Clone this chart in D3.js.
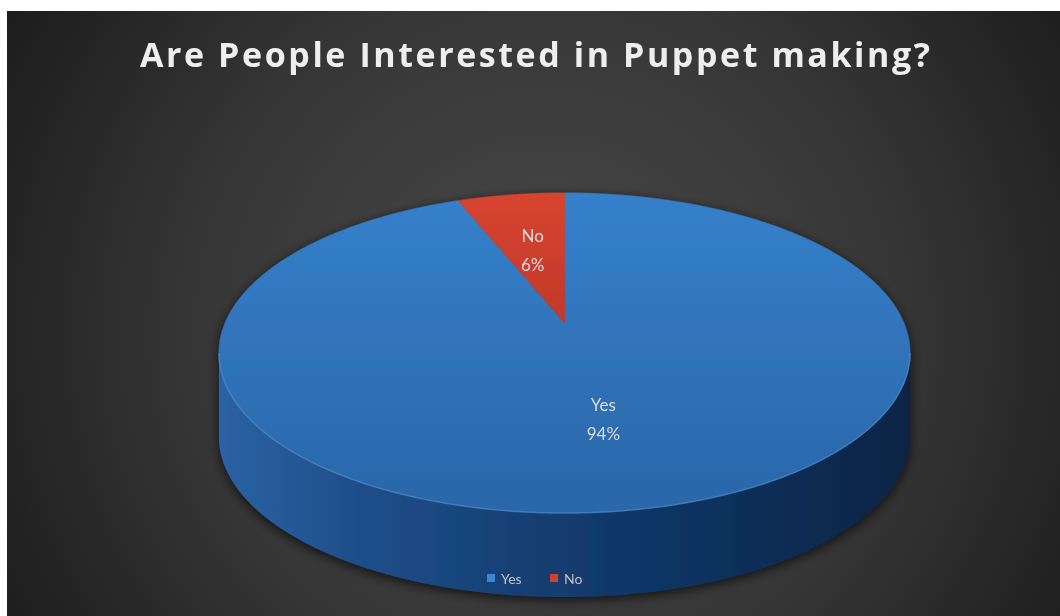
<!DOCTYPE html>
<html>
<head>
<meta charset="utf-8">
<script src="https://cdn.jsdelivr.net/npm/d3@7"></script>
<style>
  html, body { margin: 0; padding: 0; background: #ffffff; }
  svg { display: block; }
</style>
</head>
<body>
<svg id="chart" width="1060" height="616"></svg>
<script>
// Survey answers
const categories = ["Yes", "No"];
const values = [94, 6];
const percentLabels = ["94%", "6%"];
const title = "Are People Interested in Puppet making?";

const W = 1060, H = 616;
const svg = d3.select("#chart");
const defs = svg.append("defs");

// Chart area background: soft radial vignette
const bg = defs.append("radialGradient").attr("id", "bgGrad")
  .attr("gradientUnits", "userSpaceOnUse")
  .attr("cx", 545).attr("cy", 330).attr("r", 640);
bg.append("stop").attr("offset", "0%").attr("stop-color", "#4a4a4a");
bg.append("stop").attr("offset", "55%").attr("stop-color", "#363636");
bg.append("stop").attr("offset", "100%").attr("stop-color", "#1b1b1b");
svg.append("rect").attr("x", 7).attr("y", 11).attr("width", W - 7).attr("height", H - 11)
  .attr("fill", "url(#bgGrad)");

// Title
svg.append("text")
  .attr("x", 535).attr("y", 67)
  .attr("text-anchor", "middle")
  .attr("font-family", "'Open Sans', 'DejaVu Sans', sans-serif")
  .attr("font-weight", "bold")
  .attr("font-size", 34)
  .attr("textLength", 790)
  .attr("lengthAdjust", "spacing")
  .attr("fill", "#eeeeee")
  .style("filter", "blur(0.7px)")
  .text(title);

// Tilted-disk projection: (u, v) on the unit disk, v positive toward the viewer
const P = { cx: 564.5, cy: 323, a: 339.4, c: 154.4, k: 0.1875, depth: 84 };
function proj(u, v, dy = 0) {
  const s = 1 - P.k * v;
  return [P.cx + P.a * u / s, P.cy + P.c * v / s + dy];
}
// pie angle (clockwise from 12 o'clock) and radius fraction -> screen point
function polar(theta, r = 1, dy = 0) {
  return proj(r * Math.sin(theta), -r * Math.cos(theta), dy);
}

const pie = d3.pie().sort(null).value(d => d)(values);
const line = d3.line();

// Gradients
function vGrad(id, stops, x1 = 0, y1 = 0, x2 = 0, y2 = 1) {
  const g = defs.append("linearGradient").attr("id", id)
    .attr("x1", x1).attr("y1", y1).attr("x2", x2).attr("y2", y2);
  stops.forEach(([o, c]) => g.append("stop").attr("offset", o).attr("stop-color", c));
}
vGrad("topYes", [["0%", "#3580cb"], ["100%", "#2a66a8"]]);
vGrad("topNo", [["0%", "#d8442f"], ["100%", "#c0392b"]]);
vGrad("sideYes", [["0%", "#2a63a5"], ["18%", "#1f508c"], ["50%", "#123c6e"], ["80%", "#0d2d56"], ["100%", "#0a2444"]], 0, 0, 1, 0);
vGrad("sideNo", [["0%", "#a8321f"], ["100%", "#6e1f14"]], 0, 0, 1, 0);

const topFill = ["url(#topYes)", "url(#topNo)"];
const sideFill = ["url(#sideYes)", "url(#sideNo)"];
const legendColor = ["#3a86d4", "#d23f2c"];

// Drop shadow around the pie body
const sh = defs.append("filter").attr("id", "pieShadow")
  .attr("x", "-10%").attr("y", "-10%").attr("width", "120%").attr("height", "130%");
sh.append("feDropShadow").attr("dx", 0).attr("dy", 3).attr("stdDeviation", 6)
  .attr("flood-color", "#000").attr("flood-opacity", 0.7);

const pieG = svg.append("g").attr("filter", "url(#pieShadow)");

// Visible wall spans pie angles between the two silhouette points
const wallA0 = Math.acos(-P.k), wallA1 = 2 * Math.PI - Math.acos(-P.k);
const step = Math.PI / 360;

pie.forEach((d, i) => {
  const a0 = Math.max(d.startAngle, wallA0), a1 = Math.min(d.endAngle, wallA1);
  if (a1 <= a0) return;
  const ang = d3.range(a0, a1, step).concat([a1]);
  const top = ang.map(t => polar(t));
  const bot = ang.map(t => polar(t, 1, P.depth)).reverse();
  pieG.append("path").attr("d", line(top.concat(bot)) + "Z").attr("fill", sideFill[i]);
});

// Top faces
pie.forEach((d, i) => {
  const ang = d3.range(d.startAngle, d.endAngle, step).concat([d.endAngle]);
  const pts = [proj(0, 0)].concat(ang.map(t => polar(t)));
  pieG.append("path").attr("d", line(pts) + "Z").attr("fill", topFill[i])
    .attr("stroke", topFill[i]).attr("stroke-width", 0.6);
});

// Light bevel along the front rim
{
  const ang = d3.range(wallA0, wallA1, step).concat([wallA1]);
  svg.append("path").attr("d", line(ang.map(t => polar(t))))
    .attr("fill", "none").attr("stroke", "#5d9ad8").attr("stroke-opacity", 0.5)
    .attr("stroke-width", 1.5).style("filter", "blur(0.5px)");
}

// Data labels
pie.forEach((d, i) => {
  const mid = (d.startAngle + d.endAngle) / 2;
  const [x, y] = polar(mid, 0.55);
  const t = svg.append("text")
    .attr("text-anchor", "middle")
    .attr("font-family", "Lato, 'Open Sans', sans-serif")
    .attr("font-size", 17)
    .attr("fill", "#dcdcdc")
    .style("filter", "blur(0.5px)");
  t.append("tspan").attr("x", x).attr("y", y - 5).text(categories[i]);
  t.append("tspan").attr("x", x).attr("y", y + 24).text(percentLabels[i]);
});

// Legend
const legend = svg.append("g").attr("transform", "translate(487,579)");
const lx = [0, 63];
categories.forEach((c, i) => {
  const g = legend.append("g").attr("transform", `translate(${lx[i]},0)`);
  g.append("rect").attr("x", 0).attr("y", -5).attr("width", 8).attr("height", 8)
    .attr("fill", legendColor[i]);
  g.append("text").attr("x", 14).attr("y", 5)
    .attr("font-family", "Lato, 'Open Sans', sans-serif")
    .attr("font-size", 14).attr("fill", "#c4c4c4")
    .style("filter", "blur(0.4px)").text(c);
});
</script>
</body>
</html>
